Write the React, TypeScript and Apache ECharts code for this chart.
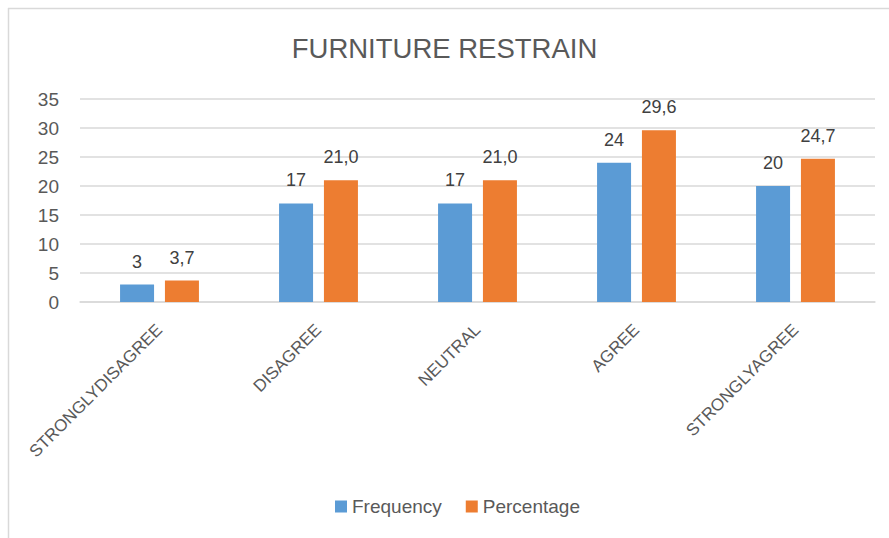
import React, { useEffect, useRef } from "react";
import * as echarts from "echarts";

// Survey answers for the furniture restraint question
const categories = ["STRONGLYDISAGREE", "DISAGREE", "NEUTRAL", "AGREE", "STRONGLYAGREE"];
const frequency = [3, 17, 17, 24, 20];
const percentage = [3.7, 21.0, 21.0, 29.6, 24.7];
const yTicks = { min: 0, max: 35, interval: 5 };

const FONT = "'Liberation Sans', Arial, sans-serif";
const BLUE = "#5B9BD5";
const ORANGE = "#ED7D31";
const GRID_GREY = "#D9D9D9";

const commaDecimal = (v: number) => v.toFixed(1).replace(".", ",");

export default function App() {
  const ref = useRef<HTMLDivElement>(null);

  useEffect(() => {
    if (!ref.current) return;
    const chart = echarts.init(ref.current, undefined, { renderer: "svg" });
    const labelStyle = {
      show: true,
      position: "top" as const,
      distance: 14,
      color: "#404040",
      fontFamily: FONT,
      fontSize: 18,
    };
    chart.setOption({
      animation: false,
      backgroundColor: "#ffffff",
      title: {
        text: "FURNITURE RESTRAIN",
        left: "center",
        top: 29,
        textStyle: { fontFamily: FONT, fontSize: 27.5, fontWeight: "normal", color: "#595959" },
      },
      graphic: [
        { type: "line", shape: { x1: 8.5, y1: 8, x2: 8.5, y2: 538 }, style: { stroke: GRID_GREY, lineWidth: 1.5 } },
        { type: "line", shape: { x1: 8, y1: 8.5, x2: 889, y2: 8.5 }, style: { stroke: GRID_GREY, lineWidth: 1.5 } },
      ],
      legend: {
        left: 330,
        top: 492,
        itemWidth: 12,
        itemHeight: 12,
        itemGap: 24,
        icon: "rect",
        textStyle: { fontFamily: FONT, fontSize: 19, color: "#595959", padding: [0, 0, 0, 0] },
        data: ["Frequency", "Percentage"],
      },
      grid: { left: 80, right: 14, top: 99, bottom: 236 },
      xAxis: {
        type: "category",
        data: categories,
        axisLine: { show: true, lineStyle: { color: GRID_GREY, width: 1.5 } },
        axisTick: { show: false },
        axisLabel: {
          rotate: 45,
          margin: 25,
          interval: 0,
          color: "#595959",
          fontFamily: FONT,
          fontSize: 17,
        },
      },
      yAxis: {
        type: "value",
        min: yTicks.min,
        max: yTicks.max,
        interval: yTicks.interval,
        axisLine: { show: false },
        axisTick: { show: false },
        splitLine: { lineStyle: { color: GRID_GREY, width: 1.5 } },
        axisLabel: { margin: 21, color: "#595959", fontFamily: FONT, fontSize: 19 },
      },
      series: [
        {
          name: "Frequency",
          type: "bar",
          data: frequency,
          barWidth: 34,
          barGap: "32%",
          itemStyle: { color: BLUE },
          label: { ...labelStyle },
        },
        {
          name: "Percentage",
          type: "bar",
          data: percentage,
          barWidth: 34,
          barGap: "32%",
          itemStyle: { color: ORANGE },
          label: { ...labelStyle, formatter: (p: any) => commaDecimal(p.value) },
        },
      ],
    });
    return () => chart.dispose();
  }, []);

  return (
    <div
      ref={ref}
      style={{ position: "fixed", left: 0, top: 0, width: 889, height: 538, background: "#fff" }}
    />
  );
}
